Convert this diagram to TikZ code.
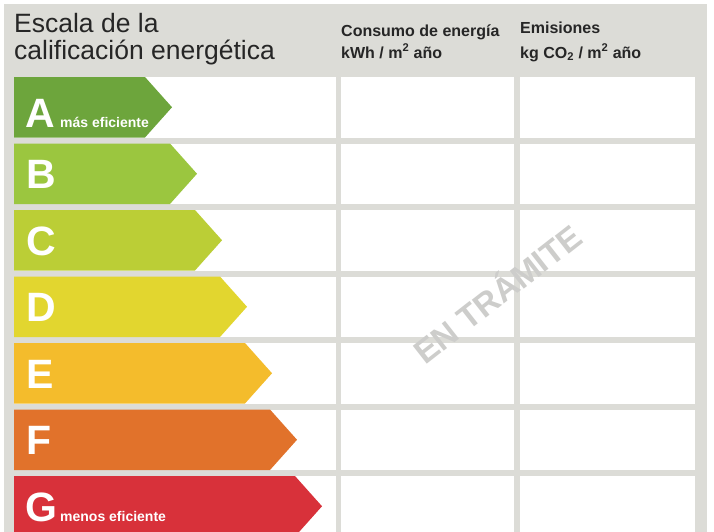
\documentclass[tikz,border=0pt]{standalone}
\usepackage{fontspec}
\setmainfont{Liberation Sans}
\definecolor{fondo}{HTML}{DCDCD7}
\definecolor{claseA}{HTML}{6DA53C}
\definecolor{claseB}{HTML}{9BC63F}
\definecolor{claseC}{HTML}{BBCE36}
\definecolor{claseD}{HTML}{E2D62F}
\definecolor{claseE}{HTML}{F4BC2C}
\definecolor{claseF}{HTML}{E1722B}
\definecolor{claseG}{HTML}{D8313A}
\definecolor{sello}{HTML}{CDCDCB}
\newcommand{\Letra}[1]{{\fontsize{41}{41}\selectfont\bfseries #1}}
\newcommand{\Nota}[1]{{\fontsize{14}{14}\selectfont\bfseries #1}}

\begin{document}
\begin{tikzpicture}[x=1pt,y=-1pt,
    celda/.style={fill=white},
    titulo/.style={anchor=base west,inner sep=0pt,text=black!85,font=\fontsize{26.5}{26.5}\selectfont},
    cabecera/.style={anchor=base west,inner sep=0pt,text=black!85,font=\fontsize{16}{16}\selectfont\bfseries},
    letra/.style={anchor=base west,inner sep=0pt,text=white}]
    \useasboundingbox (0,0) rectangle (714,531);
    \clip (0,0) rectangle (714,531);
    \fill[fondo] (4,4) rectangle (707,540);
    % cabeceras
    \draw(14,32) node[titulo] (escala1) {Escala de la};
    \draw(14,59) node[titulo] (escala2) {calificación energética};
    \draw(341,36) node[cabecera] (consumo1) {Consumo de energía};
    \draw(341,58) node[cabecera] (consumo2) {kWh / m\textsuperscript{2} año};
    \draw(520,33) node[cabecera] (emision1) {Emisiones};
    \draw(520,58) node[cabecera] (emision2) {kg CO\textsubscript{2} / m\textsuperscript{2} año};
    % celdas
    \fill[celda] (14,77) rectangle (336,137.5); \fill[celda] (341,77) rectangle (514,137.5); \fill[celda] (520,77) rectangle (695,137.5);
    \fill[celda] (14,143.5) rectangle (336,204); \fill[celda] (341,143.5) rectangle (514,204); \fill[celda] (520,143.5) rectangle (695,204);
    \fill[celda] (14,210) rectangle (336,270.5); \fill[celda] (341,210) rectangle (514,270.5); \fill[celda] (520,210) rectangle (695,270.5);
    \fill[celda] (14,276.5) rectangle (336,337); \fill[celda] (341,276.5) rectangle (514,337); \fill[celda] (520,276.5) rectangle (695,337);
    \fill[celda] (14,343) rectangle (336,403.5); \fill[celda] (341,343) rectangle (514,403.5); \fill[celda] (520,343) rectangle (695,403.5);
    \fill[celda] (14,409.5) rectangle (336,470); \fill[celda] (341,409.5) rectangle (514,470); \fill[celda] (520,409.5) rectangle (695,470);
    \fill[celda] (14,476) rectangle (336,540); \fill[celda] (341,476) rectangle (514,540); \fill[celda] (520,476) rectangle (695,540);
    % flechas
    \fill[claseA] (14,77) -- (145,77) -- (172,107.25) -- (145,137.5) -- (14,137.5) -- cycle;
    \fill[claseB] (14,143.5) -- (170,143.5) -- (197,173.75) -- (170,204) -- (14,204) -- cycle;
    \fill[claseC] (14,210) -- (195,210) -- (222,240.25) -- (195,270.5) -- (14,270.5) -- cycle;
    \fill[claseD] (14,276.5) -- (220,276.5) -- (247,306.75) -- (220,337) -- (14,337) -- cycle;
    \fill[claseE] (14,343) -- (245,343) -- (272,373.25) -- (245,403.5) -- (14,403.5) -- cycle;
    \fill[claseF] (14,409.5) -- (270,409.5) -- (297,439.75) -- (270,470) -- (14,470) -- cycle;
    \fill[claseG] (14,476) -- (295,476) -- (322,506.25) -- (295,536.5) -- (14,536.5) -- cycle;
    % letras
    \draw(25,127) node[letra] (letraA) {\Letra{A}};
    \draw(60,127) node[letra] (notaA) {\Nota{más eficiente}};
    \draw(26,188.5) node[letra] (letraB) {\Letra{B}};
    \draw(26,255) node[letra] (letraC) {\Letra{C}};
    \draw(26,321.5) node[letra] (letraD) {\Letra{D}};
    \draw(26,388) node[letra] (letraE) {\Letra{E}};
    \draw(26,454.5) node[letra] (letraF) {\Letra{F}};
    \draw(25,521) node[letra] (letraG) {\Letra{G}};
    \draw(60,521) node[letra] (notaG) {\Nota{menos eficiente}};
    % sello
    \draw(496,292) node[rotate=38,text=sello,font=\fontsize{33}{33}\selectfont\bfseries] (sello) {EN TRÁMITE};
\end{tikzpicture}
\end{document}
